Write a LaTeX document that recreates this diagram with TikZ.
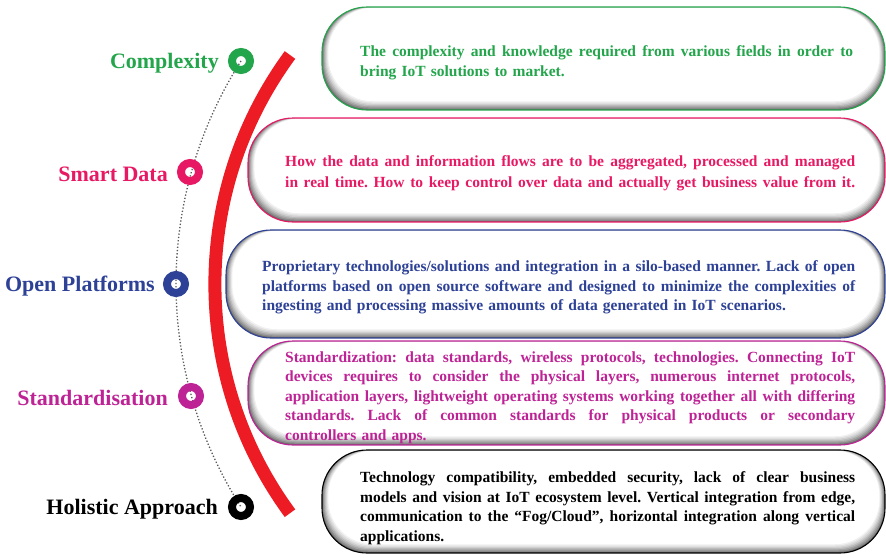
\documentclass[tikz,border=0pt]{standalone}
\usepackage{fontspec}
\setmainfont{Liberation Serif}
\usetikzlibrary{positioning}
\definecolor{cgreen}{RGB}{35,165,75}
\definecolor{cpink}{RGB}{232,25,100}
\definecolor{cblue}{RGB}{45,65,150}
\definecolor{cmag}{RGB}{190,35,150}
\definecolor{cred}{RGB}{237,28,36}
\newcommand{\pillbox}[5]{%
  \begin{scope}
    \clip[rounded corners=45pt] (#1,#2) rectangle (#3,#4);
    \fill[black!58] (#1,#2) rectangle (#3,#4);
    \foreach \i/\g in {1/46,2/36,3/27,4/19,5/12,6/6,7/0} {
      \fill[black!\g, rounded corners=45pt] ({#1+0.9*\i},{#2+0.1*\i}) rectangle ({#3-0.8*\i},{#4-1.25*\i});
    }
  \end{scope}
  \draw[#5, line width=1.1pt, rounded corners=45pt] (#1,#2) rectangle (#3,#4);
}
\newcommand{\jl}[2]{\leavevmode\hbox to #1{\spaceskip=0.25em plus 1fil\xspaceskip=0.25em plus 1fil\relax #2}}
\frenchspacing
\begin{document}
\begin{tikzpicture}[x=1pt,y=-1pt,
  ring/.style={circle, draw=#1, line width=8pt, minimum size=18pt, inner sep=0pt},
  lab/.style={font=\fontsize{22}{26}\selectfont\bfseries, text=#1, inner sep=0pt, yshift=-2pt},
  txt/.style={font=\fontsize{15.5}{19.6}\selectfont\bfseries\frenchspacing, text=#1, inner sep=0pt, align=left, anchor=west},
  dotline/.style={draw=black!65, line width=1.3pt, dotted},
  redarc/.style={draw=cred, line width=13pt}]
\useasboundingbox (0,0) rectangle (886,557);

% red arc
\coordinate (rtop) at (290,55);
\draw[redarc] (rtop) arc[start angle=143.7, end angle=216.3, radius=387pt];

% rings
\coordinate (d1) at (241,61);
\draw[dotline] (d1) arc[start angle=147.5, end angle=212.5, radius=415pt];
\node[ring=cgreen] (c1) at (241,61) {};
\node[ring=cpink] (c2) at (190,172) {};
\node[ring=cblue] (c3) at (176,284) {};
\node[ring=cmag] (c4) at (191,396) {};
\node[ring=black] (c5) at (241,507) {};

\node[lab=cgreen, left=9pt of c1] (l1) {Complexity};
\node[lab=cpink, left=9pt of c2] (l2) {Smart Data};
\node[lab=cblue, left=8pt of c3] (l3) {Open Platforms};
\node[lab=cmag, left=10pt of c4] (l4) {Standardisation};
\node[lab=black, left=10pt of c5] (l5) {Holistic Approach};

% boxes
\pillbox{322}{7}{885}{110}{cgreen}
\pillbox{248}{118}{885}{222}{cpink}
\pillbox{226}{230}{885}{338}{cblue}
\pillbox{248}{341}{885}{445}{cmag}
\pillbox{322}{450}{885}{553}{black}

\node[txt=cgreen, text width=495pt] (t1) at (360,62.5) {\jl{493pt}{The complexity and knowledge required from various fields in order to}\\bring IoT solutions to market.};
\node[txt=cpink, text width=572pt, font=\fontsize{15.5}{21}\selectfont\bfseries\frenchspacing] (t2) at (285,173) {\jl{570pt}{How the data and information flows are to be aggregated, processed and managed}\\\jl{570pt}{in real time. How to keep control over data and actually get business value from it.}};
\node[txt=cblue, text width=595pt] (t3) at (262,287.5) {\jl{593pt}{Proprietary technologies/solutions and integration in a silo-based manner. Lack of open}\\\jl{593pt}{platforms based on open source software and designed to minimize the complexities of}\\ingesting and processing massive amounts of data generated in IoT scenarios.};
\node[txt=cmag, text width=572pt] (t4) at (285,397.5) {\jl{570pt}{Standardization: data standards, wireless protocols, technologies. Connecting IoT}\\\jl{570pt}{devices requires to consider the physical layers, numerous internet protocols,}\\\jl{570pt}{application layers, lightweight operating systems working together all with differing}\\\jl{570pt}{standards. Lack of common standards for physical products or secondary}\\controllers and apps.};
\node[txt=black, text width=497pt] (t5) at (360,508) {\jl{495pt}{Technology compatibility, embedded security, lack of clear business}\\\jl{495pt}{models and vision at IoT ecosystem level. Vertical integration from edge,}\\\jl{495pt}{communication to the “Fog/Cloud”, horizontal integration along vertical}\\applications.};
\end{tikzpicture}
\end{document}
